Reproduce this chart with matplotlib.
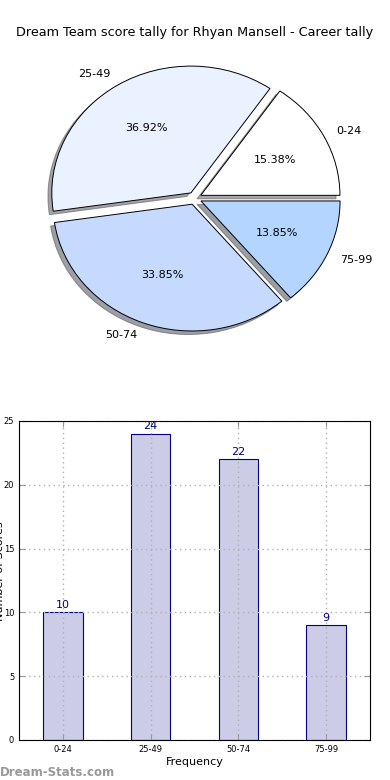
import matplotlib
matplotlib.use("Agg")
import matplotlib.pyplot as plt

# data
ranges = ['0-24', '25-49', '50-74', '75-99']
counts = [10, 24, 22, 9]
pie_colors = ['#ffffff', '#eaf1ff', '#c6d9ff', '#b3d5ff']
y_ticks = [0, 5, 10, 15, 20, 25]

fig = plt.figure(figsize=(3.9, 7.8), dpi=100)

# PIE
ax1 = fig.add_axes([0.053, 0.5426, 0.892, 0.4064])
wedges, texts, autotexts = ax1.pie(
    counts, labels=ranges, colors=pie_colors, explode=[0.05] * 4,
    autopct='%1.2f%%', shadow=True, startangle=0,
    wedgeprops={'edgecolor': 'black', 'linewidth': 0.7},
    textprops={'fontsize': 8})
ax1.set_aspect('auto')
ax1.set_xlim(-1.25, 1.25)
ax1.set_ylim(-1.25, 1.25)
ax1.set_title('Dream Team score tally for Rhyan Mansell - Career tally',
              fontsize=9.2, pad=3)

# BAR
ax2 = fig.add_axes([0.0487, 0.0513, 0.9, 0.409])
x = range(len(ranges))
bars = ax2.bar(x, counts, width=0.45, color='#ccccE6', edgecolor='navy',
               linewidth=0.8, zorder=1)
for i, v in enumerate(counts):
    ax2.text(i, v + 0.2, str(v), ha='center', va='bottom', color='navy', fontsize=8)
ax2.set_xlim(-0.5, 3.5)
ax2.set_ylim(0, 25)
ax2.set_xticks(list(x))
ax2.set_xticklabels(ranges)
ax2.set_yticks(y_ticks)
ax2.tick_params(labelsize=6, direction='in', top=True, right=True, length=4, color='#999999')
ax2.set_axisbelow('line')
ax2.grid(True, linestyle=(0, (1, 2.5)), color='#b0b0b0', linewidth=1.0)
ax2.set_xlabel('Frequency', fontsize=8, labelpad=2)
fig.text(0.012, 0.268, 'Number of Scores', rotation=90, fontsize=8,
         va='center', ha='right')

fig.text(0.0, 0.005, 'Dream-Stats.com', fontsize=8.5, color='#999999', fontweight='bold')

plt.savefig('out.png', dpi=100)
